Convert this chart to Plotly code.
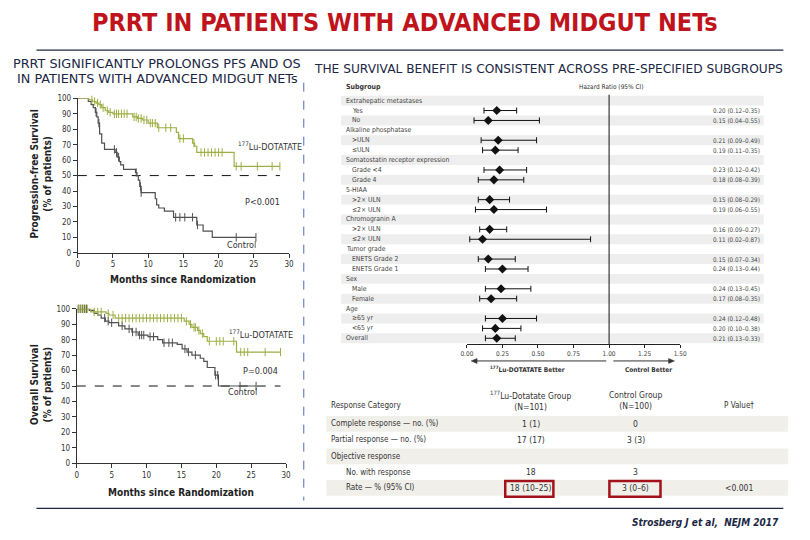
import plotly.graph_objects as go

W, H = 810, 540
def X(px): return px / W
def Y(py): return 1 - py / H

FONT = "DejaVu Sans Condensed, Liberation Sans Narrow, sans-serif"
WIDE = "DejaVu Sans, sans-serif"
NAVY = "#1c2744"
GREEN = "#9fae45"
GRAY = "#505050"

# ---------------- PFS data (months, % event-free) ----------------
pfs_lu_t = [0, 1.6, 2.1, 2.6, 3.0, 3.4, 3.9, 4.4, 5.0, 7.8, 8.5, 9.2, 10.0, 11.3, 14.0, 14.3, 16.3, 16.6, 16.9, 22.2, 28.7]
pfs_lu_s = [100, 99, 98, 97, 96, 94, 92, 91, 90, 88, 87, 86, 84, 81, 78, 74, 71, 69, 65, 56, 56]
pfs_lu_cens = [2.0, 2.4, 2.8, 3.2, 3.6, 4.2, 4.6, 5.2, 5.5, 5.8, 6.2, 6.6, 7.0, 8.0, 8.3, 8.6, 9.0, 9.4, 9.8,
               10.3, 10.6, 11.0, 11.5, 12.5, 13.2, 14.5, 15.0, 16.5, 17.5, 18.0, 18.5, 19.0, 19.5, 20.0,
               20.5, 22.5, 23.2, 25.5, 27.6, 28.7]

pfs_ct_t = [0, 1.5, 1.9, 2.2, 2.5, 2.7, 2.9, 3.1, 3.4, 3.8, 5.3, 5.6, 5.9, 6.1, 6.5, 8.2, 8.4, 8.6, 8.8, 9.0,
            11.0, 11.2, 11.5, 12.3, 13.6, 16.9, 17.8, 19.1, 25.3]
pfs_ct_s = [100, 98, 96, 94, 91, 88, 84, 77, 71, 67, 65, 62, 59, 57, 54, 52, 50, 47, 43, 39,
            35, 31, 29, 27, 23, 18, 14, 10, 10]
pfs_ct_cens = [2.6, 3.0, 5.2, 5.5, 5.8, 8.3, 8.9, 9.0, 13.9, 14.5, 15.2, 16.3, 17.0, 22.5, 25.3]

# ---------------- OS data ----------------
os_lu_t = [0, 2.0, 4.2, 4.6, 5.5, 15.4, 16.1, 16.5, 17.3, 17.7, 18.2, 18.7, 22.9, 29.2]
os_lu_s = [100, 98, 97, 96, 94, 92, 90, 88, 86, 84, 82, 79, 72, 72]
os_lu_cens = [0.3, 0.6, 0.9, 1.2, 1.5, 2.5, 3.0, 3.5, 4.5, 5.2, 6.0, 6.5, 7.0, 7.5, 8.0, 8.5, 9.0, 9.5,
              10.0, 10.5, 11.0, 11.5, 12.0, 12.5, 13.0, 13.5, 14.0, 14.5, 15.0, 15.7, 16.3, 16.8, 17.0,
              17.5, 18.0, 19.0, 20.0, 20.5, 21.0, 22.5, 23.5, 24.0, 24.5, 27.0, 29.2]

os_ct_t = [0, 1.8, 2.5, 3.0, 3.5, 4.1, 4.6, 6.0, 6.9, 7.9, 8.8, 10.2, 11.6, 12.3, 14.4, 15.1, 15.8,
           16.5, 17.7, 18.2, 18.7, 19.8, 20.3, 25.7]
os_ct_s = [100, 99, 97, 96, 94, 92, 91, 89, 87, 85, 83, 82, 80, 78, 77, 74, 72, 70, 68, 66, 62, 57, 50, 50]
os_ct_cens = [0.2, 0.5, 0.8, 1.1, 1.4, 4.0, 4.5, 5.0, 6.5, 7.5, 8.0, 8.5, 9.0, 9.3, 9.6, 10.5, 11.0,
              12.5, 13.2, 13.7, 15.5, 16.0, 17.0, 19.9, 20.2, 23.4, 25.7]

km_ticks_x = [0, 5, 10, 15, 20, 25, 30]
km_ticks_y = [0, 10, 20, 30, 40, 50, 60, 70, 80, 90, 100]

# ---------------- Forest plot data ----------------
subgroup_labels = ["Extrahepatic metastases", "Yes", "No",
                   "Alkaline phosphatase", ">ULN", "≤ULN",
                   "Somatostatin receptor expression", "Grade <4", "Grade 4",
                   "5-HIAA", ">2× ULN", "≤2× ULN",
                   "Chromogranin A", ">2× ULN", "≤2× ULN",
                   "Tumor grade", "ENETS Grade 2", "ENETS Grade 1",
                   "Sex", "Male", "Female",
                   "Age", "≥65 yr", "<65 yr",
                   "Overall"]
is_header = [True, False, False, True, False, False, True, False, False, True, False, False,
             True, False, False, True, False, False, True, False, False, True, False, False, True]
hr = [None, 0.21, 0.15, None, 0.22, 0.20, None, 0.23, 0.19, None, 0.16, 0.19,
      None, 0.16, 0.11, None, 0.15, 0.25, None, 0.24, 0.17, None, 0.25, 0.20, 0.21]
hr_lo = [None, 0.12, 0.05, None, 0.10, 0.11, None, 0.12, 0.08, None, 0.08, 0.06,
         None, 0.09, 0.02, None, 0.08, 0.13, None, 0.13, 0.09, None, 0.13, 0.11, 0.13]
hr_hi = [None, 0.35, 0.51, None, 0.49, 0.36, None, 0.42, 0.40, None, 0.30, 0.56,
         None, 0.28, 0.87, None, 0.34, 0.43, None, 0.45, 0.35, None, 0.49, 0.38, 0.34]
hr_text = ["", "0.20 (0.12–0.35)", "0.15 (0.04–0.55)", "", "0.21 (0.09–0.49)", "0.19 (0.11–0.35)",
           "", "0.23 (0.12–0.42)", "0.18 (0.08–0.39)", "", "0.15 (0.08–0.29)", "0.19 (0.06–0.55)",
           "", "0.16 (0.09–0.27)", "0.11 (0.02–0.87)", "", "0.15 (0.07–0.34)", "0.24 (0.13–0.44)",
           "", "0.24 (0.13–0.45)", "0.17 (0.08–0.35)", "", "0.24 (0.12–0.48)", "0.20 (0.10–0.38)",
           "0.21 (0.13–0.33)"]
forest_ticks = [0, 0.25, 0.5, 0.75, 1.0, 1.25, 1.5]

# ---------------- Response table ----------------
resp_categories = ["Complete response — no. (%)", "Partial response — no. (%)", "Objective response",
                   "No. with response", "Rate — % (95% CI)"]
resp_indent = [False, False, False, True, True]
resp_lu = ["1 (1)", "17 (17)", "", "18", "18 (10–25)"]
resp_ctrl = ["0", "3 (3)", "", "3", "3 (0–6)"]
resp_p = ["", "", "", "", "<0.001"]

fig = go.Figure()

def step_lookup(ts, ss, t):
    v = ss[0]
    for ti, si in zip(ts, ss):
        if ti <= t:
            v = si
    return v

def add_km(xa, ya, t, s, cens, color):
    fig.add_trace(go.Scatter(x=t, y=s, mode="lines", line=dict(color=color, width=1.2, shape="hv"),
                             xaxis=xa, yaxis=ya, showlegend=False, hoverinfo="skip"))
    fig.add_trace(go.Scatter(x=cens, y=[step_lookup(t, s, c) for c in cens], mode="markers",
                             marker=dict(symbol="line-ns", size=6, line=dict(color=color, width=1)),
                             xaxis=xa, yaxis=ya, showlegend=False, hoverinfo="skip", cliponaxis=False))

# 50% dashed lines
fig.add_trace(go.Scatter(x=[0, 28.7], y=[50, 50], mode="lines", line=dict(color="#111", width=1, dash="dash"),
                         xaxis="x", yaxis="y", showlegend=False))
fig.add_trace(go.Scatter(x=[0, 29.2], y=[50, 50], mode="lines", line=dict(color="#111", width=1, dash="dash"),
                         xaxis="x2", yaxis="y2", showlegend=False))

add_km("x", "y", pfs_ct_t, pfs_ct_s, pfs_ct_cens, GRAY)
add_km("x", "y", pfs_lu_t, pfs_lu_s, pfs_lu_cens, GREEN)
add_km("x2", "y2", os_ct_t, os_ct_s, os_ct_cens, GRAY)
add_km("x2", "y2", os_lu_t, os_lu_s, os_lu_cens, GREEN)

# Forest points
rows = list(range(len(subgroup_labels)))
fx, fy, ep, em = [], [], [], []
for i in rows:
    if hr[i] is not None:
        fx.append(hr[i]); fy.append(i)
        ep.append(hr_hi[i] - hr[i]); em.append(hr[i] - hr_lo[i])
fig.add_trace(go.Scatter(x=fx, y=fy, mode="markers", xaxis="x3", yaxis="y3", showlegend=False,
                         marker=dict(symbol="diamond", size=7, color="#111"),
                         error_x=dict(type="data", array=ep, arrayminus=em, color="#111",
                                      thickness=1, width=3)))

axis_common = dict(showline=True, linecolor="#333", linewidth=1, ticks="outside", ticklen=4,
                   tickcolor="#333", showgrid=False, zeroline=False,
                   tickfont=dict(family=FONT, size=8, color="#333"))

fig.update_layout(
    width=W, height=H, margin=dict(l=0, r=0, t=0, b=0),
    paper_bgcolor="white", plot_bgcolor="rgba(0,0,0,0)", showlegend=False,
    xaxis=dict(domain=[X(72), X(287)], range=[0, 30], tickvals=km_ticks_x, anchor="y", **axis_common),
    yaxis=dict(domain=[Y(253), Y(96)], range=[0, 100], tickvals=km_ticks_y, anchor="x", **axis_common),
    xaxis2=dict(domain=[X(71), X(284)], range=[0, 30], tickvals=km_ticks_x, anchor="y2", **axis_common),
    yaxis2=dict(domain=[Y(467), Y(310)], range=[0, 100], tickvals=km_ticks_y, anchor="x2", **axis_common),
    xaxis3=dict(domain=[X(468), X(685)], range=[0, 1.5], tickvals=forest_ticks,
                ticktext=[f"{v:.2f}" for v in forest_ticks], anchor="y3",
                showline=True, linecolor="#222", linewidth=1, ticks="outside", ticklen=3, tickcolor="#222",
                showgrid=False, zeroline=False, tickfont=dict(family=FONT, size=6.5, color="#444")),
    yaxis3=dict(domain=[Y(346), Y(88)], range=[24.6, -1.02], visible=False, anchor="x3"),
)

shapes = []
ann = []

def text(x, y, s, size=8, color="#333", xanchor="center", yanchor="middle", family=FONT, **kw):
    if not s:
        return
    ann.append(dict(x=X(x), y=Y(y), xref="paper", yref="paper", text=s, showarrow=False,
                    xanchor=xanchor, yanchor=yanchor, font=dict(family=family, size=size, color=color), **kw))

# Title & headings
text(405, 19, "<b>PRRT IN PATIENTS WITH ADVANCED MIDGUT NETs</b>", size=25, color="#c0141c")
shapes.append(dict(type="line", xref="paper", yref="paper", x0=X(30), x1=X(790), y0=Y(47), y1=Y(47),
                   line=dict(color=NAVY, width=1.2)))
text(153, 61, "PRRT SIGNIFICANTLY PROLONGS PFS AND OS", size=12.8, color=NAVY, family=WIDE)
text(153, 76, "IN PATIENTS WITH ADVANCED MIDGUT NETs", size=12.8, color=NAVY, family=WIDE)
text(551, 66, "THE SURVIVAL BENEFIT IS CONSISTENT ACROSS PRE-SPECIFIED SUBGROUPS", size=12.2, color=NAVY, family=WIDE)
shapes.append(dict(type="line", xref="paper", yref="paper", x0=X(302), x1=X(302), y0=Y(80), y1=Y(505),
                   line=dict(color="#4a6fb8", width=1, dash="dash")))
shapes.append(dict(type="line", xref="paper", yref="paper", x0=X(30), x1=X(790), y0=Y(513), y1=Y(513),
                   line=dict(color=NAVY, width=1.2)))
text(788, 527, "<b><i>Strosberg J et al,  NEJM 2017</i></b>", size=10, color=NAVY, xanchor="right")

# KM labels
text(35, 173, "<b>Progression-free Survival<br>(% of patients)</b>", size=10, color="#222", textangle=-90)
text(179, 280, "<b>Months since Randomization</b>", size=10, color="#222")
text(34, 387, "<b>Overall Survival<br>(% of patients)</b>", size=10, color="#222", textangle=-90)
text(177, 497, "<b>Months since Randomization</b>", size=10, color="#222")

for xa, ya, items in [("x", "y", [(22.5, 69, "<sup>177</sup>Lu-DOTATATE", "left"),
                                   (26.3, 33, "P<0.001", "center"),
                                   (23.3, 5, "Control", "center")]),
                      ("x2", "y2", [(21.5, 84, "<sup>177</sup>Lu-DOTATATE", "left"),
                                    (26.3, 60, "P=0.004", "center"),
                                    (23.7, 46, "Control", "center")])]:
    for (xx, yy, s, anc) in items:
        ann.append(dict(x=xx, y=yy, xref=xa, yref=ya, text=s, showarrow=False, xanchor=anc,
                        font=dict(family=FONT, size=9, color="#333")))

# Forest bands & labels
for i in rows:
    if i % 2 == 0:
        shapes.append(dict(type="rect", xref="paper", yref="y3", x0=X(340), x1=X(770), y0=i - 0.5, y1=i + 0.5,
                           fillcolor="#eeeeee", line=dict(width=0), layer="below"))
    ann.append(dict(x=X(343 if is_header[i] else 349), y=i, xref="paper", yref="y3", text=subgroup_labels[i],
                    showarrow=False, xanchor="left", font=dict(family=FONT, size=6.8, color="#444")))
    if hr_text[i]:
        ann.append(dict(x=X(768), y=i, xref="paper", yref="y3", text=hr_text[i], showarrow=False,
                        xanchor="right", font=dict(family=FONT, size=6.3, color="#444")))
shapes.append(dict(type="line", xref="x3", yref="y3", x0=1.0, x1=1.0, y0=-0.6, y1=24.6,
                   line=dict(color="#111", width=1)))
text(343, 84, "<b>Subgroup</b>", size=7, color="#333", xanchor="left")
text(615, 84, "Hazard Ratio (95% CI)", size=6.5, color="#333")

# direction arrows under the forest axis (x in HR units, y in page pixels)
ay = Y(363)
dx = 1.5 / 217.0   # HR units per pixel
dy = 1.0 / H
for x_tail, x_tip, sgn in [(0.98, 0.03, -1), (1.03, 1.46, 1)]:
    shapes.append(dict(type="line", xref="x3", yref="paper", x0=x_tail, x1=x_tip - sgn * 4 * dx, y0=ay, y1=ay,
                       line=dict(color="#333", width=1)))
    path = (f"M {x_tip},{ay} L {x_tip - sgn * 6 * dx},{ay + 2.5 * dy} "
            f"L {x_tip - sgn * 6 * dx},{ay - 2.5 * dy} Z")
    shapes.append(dict(type="path", xref="x3", yref="paper", path=path, fillcolor="#333",
                       line=dict(color="#333", width=0.5)))
text(530, 372, "<b><sup>177</sup>Lu-DOTATATE Better</b>", size=6.5, color="#333")
text(653, 372, "<b>Control Better</b>", size=6.5, color="#333")

# Response table
row_y = [427, 443, 460, 476, 492]
for k, yy in enumerate(row_y):
    if k % 2 == 0:
        shapes.append(dict(type="rect", xref="paper", yref="paper", x0=X(325), x1=X(795),
                           y0=Y(yy - 8), y1=Y(yy + 8), fillcolor="#f1efea", line=dict(width=0), layer="below"))
    text(343 if resp_indent[k] else 328, yy, resp_categories[k], size=8, color="#333", xanchor="left")
    text(533, yy, resp_lu[k], size=8.5, color="#333")
    text(640, yy, resp_ctrl[k], size=8.5, color="#333")
    text(745, yy, resp_p[k], size=8.5, color="#333")
text(328, 408, "Response Category", size=8, color="#333", xanchor="left")
text(533, 403, "<sup>177</sup>Lu-Dotatate Group<br>(N=101)", size=8.5, color="#333")
text(640, 403, "Control Group<br>(N=100)", size=8.5, color="#333")
text(745, 408, "P Value†", size=8, color="#333")
for x0, x1 in [(507, 556), (613, 665)]:
    shapes.append(dict(type="rect", xref="paper", yref="paper", x0=X(x0), x1=X(x1), y0=Y(501), y1=Y(485),
                       line=dict(color="#a3121a", width=2.5), fillcolor="rgba(0,0,0,0)"))

fig.update_layout(shapes=shapes, annotations=ann)
fig.write_html("out.html", config={"displayModeBar": False},
               post_script="document.body.style.margin='0';document.body.style.overflow='hidden';")
